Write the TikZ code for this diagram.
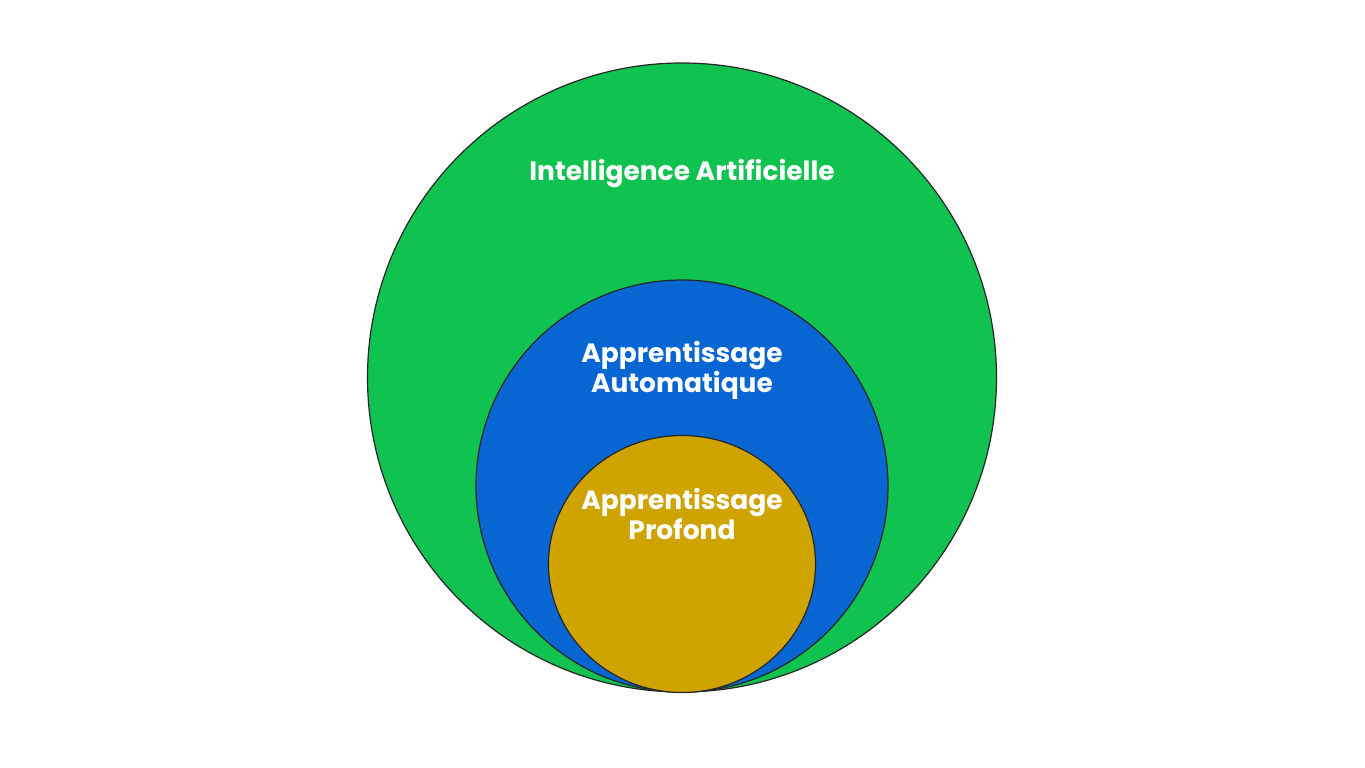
\documentclass[tikz,border=0pt]{standalone}
\usepackage{fontspec}
\setmainfont{Poppins}
\usetikzlibrary{shapes.geometric}
\definecolor{aigreen}{HTML}{10C250}
\definecolor{mlblue}{HTML}{0866D2}
\definecolor{dlgold}{HTML}{CFA300}
\begin{document}
\begin{tikzpicture}[x=1pt,y=-1pt,
  ring/.style={draw=black!85,line width=1.2pt},
  lbl/.style={text=white,font=\bfseries\fontsize{26.5}{30}\selectfont,align=center}]
\useasboundingbox[fill=white] (0,0) rectangle (1365,768);
\node[ring,circle,fill=aigreen,minimum size=629pt,inner sep=0pt] (ai) at (682,377.5) {};
\node[ring,circle,fill=mlblue,minimum size=412pt,inner sep=0pt] (ml) at (682,486) {};
\node[ring,ellipse,fill=dlgold,minimum width=267pt,minimum height=257pt,inner sep=0pt] (dl) at (682,564) {};
\node[lbl] (ait) at (682,174) {Intelligence Artificielle};
\node[lbl] (mlt) at (682,370.5) {Apprentissage\\Automatique};
\node[lbl] (dlt) at (682,514) {Apprentissage\\Profond};
\end{tikzpicture}
\end{document}
